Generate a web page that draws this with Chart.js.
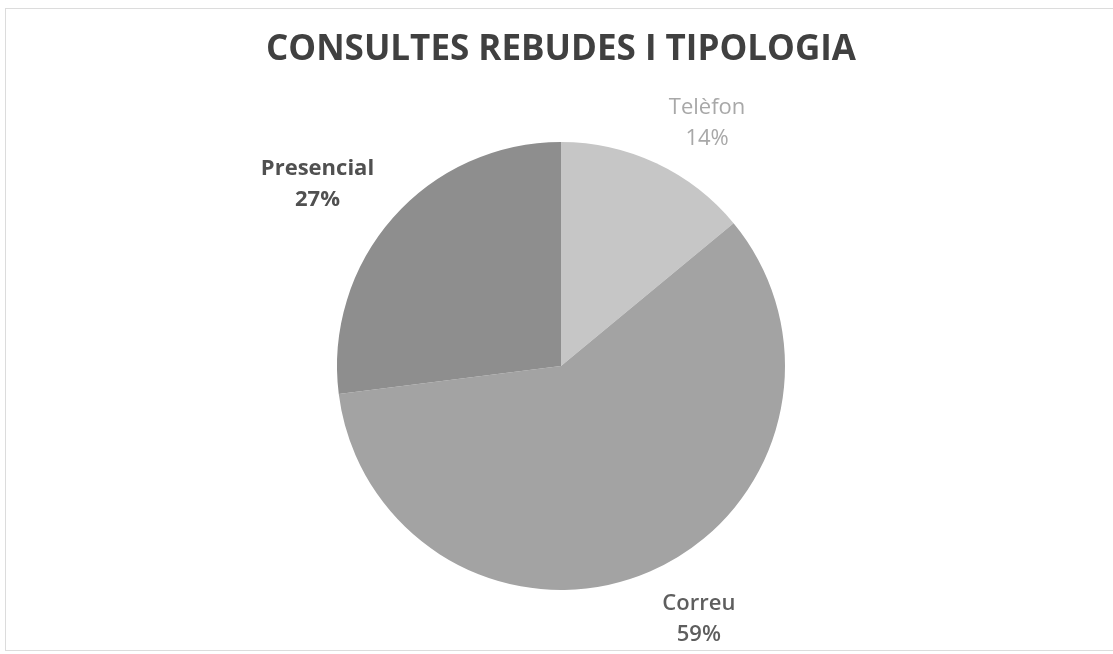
<!DOCTYPE html>
<html>
<head>
<meta charset="utf-8">
<script src="https://cdn.jsdelivr.net/npm/chart.js@4"></script>
<style>
	html, body { margin: 0; padding: 0; background: #fff; }
	.wrap { position: relative; width: 1113px; height: 654px; }
	.frame { position: absolute; left: 5px; top: 8px; right: -2px; bottom: 3px; border: 1px solid #dcdcdc; }
	canvas { position: absolute; left: 0; top: 0; }
</style>
</head>
<body>
<div class="wrap">
	<div class="frame"></div>
	<canvas id="pieChart" width="1113" height="654"></canvas>
</div>
<script>
// Consultes rebudes i tipologia: pie chart with Excel-style outside labels

const categories = ['Telèfon', 'Correu', 'Presencial'];
const shares = [14, 59, 27];
const sliceColors = ['#c6c6c6', '#a3a3a3', '#8e8e8e'];

// label look per slice (text only, positions come from the arcs)
const labelStyle = [
	{ color: '#a8a8a8', weight: 'normal', nudge: [24, 17], dist: 1.28 },
	{ color: '#5e5e5e', weight: '600', nudge: [24, -9], dist: 1.28 },
	{ color: '#505050', weight: 'bold', nudge: [-15, 20], dist: 1.36 }
];

const outsideLabels = {
	id: 'outsideLabels',
	afterDatasetsDraw(chart) {
		const ctx = chart.ctx;
		const meta = chart.getDatasetMeta(0);
		meta.data.forEach((arc, i) => {
			const p = arc.getProps(['x', 'y', 'startAngle', 'endAngle', 'outerRadius'], true);
			const mid = (p.startAngle + p.endAngle) / 2;
			const st = labelStyle[i];
			const x = p.x + Math.cos(mid) * p.outerRadius * st.dist + st.nudge[0];
			const y = p.y + Math.sin(mid) * p.outerRadius * st.dist + st.nudge[1];
			ctx.save();
			ctx.fillStyle = st.color;
			ctx.textAlign = 'center';
			ctx.textBaseline = 'middle';
			ctx.font = st.weight + ' 22px "Open Sans"';
			ctx.fillText(categories[i], x, y - 16);
			ctx.fillText(shares[i] + '%', x, y + 15);
			ctx.restore();
		});
	}
};

document.addEventListener('DOMContentLoaded', function () {
	const ctx = document.getElementById('pieChart').getContext('2d');
	new Chart(ctx, {
		type: 'pie',
		data: {
			labels: categories,
			datasets: [{
				data: shares,
				backgroundColor: sliceColors,
				borderWidth: 0
			}]
		},
		options: {
			responsive: false,
			animation: false,
			layout: { padding: { top: 0, bottom: 64, left: 9, right: 0 } },
			plugins: {
				legend: { display: false },
				tooltip: { enabled: false },
				title: {
					display: true,
					text: 'CONSULTES REBUDES I TIPOLOGIA',
					color: '#404040',
					font: { family: '"Open Sans"', size: 35, weight: 'bold', lineHeight: 1.2 },
					padding: { top: 29, bottom: 71 }
				}
			}
		},
		plugins: [outsideLabels]
	});
});
</script>
</body>
</html>
